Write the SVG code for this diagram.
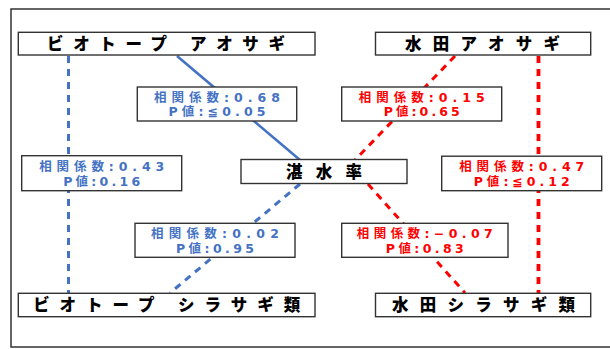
<svg xmlns="http://www.w3.org/2000/svg" width="610" height="349" viewBox="0 0 610 349">
<style>
.frame{fill:none;stroke:#333;stroke-width:1.5}
.box{fill:#fff;stroke:#333;stroke-width:1.4}
.title{font-family:"Noto Sans CJK JP","Noto Sans",sans-serif;font-weight:900;font-size:16.5px;fill:#000;text-anchor:middle}
.lbl{font-family:"DejaVu Sans","Noto Sans CJK JP",sans-serif;font-weight:bold;font-size:12.5px;text-anchor:middle}
.b{fill:#4472C4}
.r{fill:#FF0000}
.bl{stroke:#4472C4;stroke-width:3;fill:none}
.rl{stroke:#FF0000;stroke-width:3;fill:none}
.dash{stroke-dasharray:7 6}
</style>
<rect class="frame" x="11" y="9" width="602" height="338"/>
<g id="connectors">
<line class="bl dash" x1="68.5" y1="56" x2="68.5" y2="293"/>
<line class="rl dash" x1="538.5" y1="56" x2="538.5" y2="293" style="stroke-width:3.8"/>
<line class="bl" x1="177" y1="56" x2="300" y2="160" style="stroke-width:2.6"/>
<line class="rl dash" x1="455" y1="56" x2="355" y2="160"/>
<line class="bl dash" x1="300" y1="184" x2="170" y2="293"/>
<line class="rl dash" x1="368" y1="184" x2="465" y2="293"/>
</g>
<g id="biotope-aosagi">
<rect class="box" x="18.3" y="32.3" width="296.7" height="22.7"/>
<text class="title" x="166" y="49.5" textLength="238" lengthAdjust="spacing">ビオトープ アオサギ</text>
</g>
<g id="suiden-aosagi">
<rect class="box" x="375.5" y="32.3" width="215.2" height="22.7"/>
<text class="title" x="482.5" y="49.5" textLength="155" lengthAdjust="spacing">水田アオサギ</text>
</g>
<g id="tansuiritsu">
<rect class="box" x="241" y="159.5" width="166" height="24"/>
<text class="title" x="324" y="177.5" textLength="76" lengthAdjust="spacing">湛水率</text>
</g>
<g id="biotope-shirasagi">
<rect class="box" x="18.3" y="293.3" width="296.7" height="23.4"/>
<text class="title" x="166.7" y="311" textLength="267" lengthAdjust="spacing">ビオトープ シラサギ類</text>
</g>
<g id="suiden-shirasagi">
<rect class="box" x="375.5" y="293.3" width="215.2" height="23.4"/>
<text class="title" x="483.5" y="311" textLength="183" lengthAdjust="spacing">水田シラサギ類</text>
</g>
<g id="label-068">
<rect class="box" x="137.3" y="87" width="159.4" height="34"/>
<text class="lbl b" x="217" y="101.5" textLength="126" lengthAdjust="spacing">相関係数:0.68</text>
<text class="lbl b" x="217" y="116" textLength="97" lengthAdjust="spacing">P値:≦0.05</text>
</g>
<g id="label-015">
<rect class="box" x="341.7" y="87" width="160" height="34"/>
<text class="lbl r" x="421.7" y="101.5" textLength="126" lengthAdjust="spacing">相関係数:0.15</text>
<text class="lbl r" x="421.7" y="116" textLength="76" lengthAdjust="spacing">P値:0.65</text>
</g>
<g id="label-043">
<rect class="box" x="21.7" y="155.7" width="160" height="35"/>
<text class="lbl b" x="101.7" y="171" textLength="125" lengthAdjust="spacing">相関係数:0.43</text>
<text class="lbl b" x="101.7" y="185.5" textLength="77" lengthAdjust="spacing">P値:0.16</text>
</g>
<g id="label-047">
<rect class="box" x="441.7" y="156.2" width="160" height="34.5"/>
<text class="lbl r" x="521.7" y="171" textLength="125" lengthAdjust="spacing">相関係数:0.47</text>
<text class="lbl r" x="521.7" y="185.5" textLength="96" lengthAdjust="spacing">P値:≦0.12</text>
</g>
<g id="label-002">
<rect class="box" x="135" y="223.3" width="160" height="34"/>
<text class="lbl b" x="215" y="238" textLength="128" lengthAdjust="spacing">相関係数:0.02</text>
<text class="lbl b" x="215" y="252.5" textLength="78" lengthAdjust="spacing">P値:0.95</text>
</g>
<g id="label-007">
<rect class="box" x="341.7" y="223.3" width="166.3" height="34"/>
<text class="lbl r" x="424.8" y="238" textLength="136" lengthAdjust="spacing">相関係数:−0.07</text>
<text class="lbl r" x="424.8" y="252.5" textLength="78" lengthAdjust="spacing">P値:0.83</text>
</g>
</svg>
